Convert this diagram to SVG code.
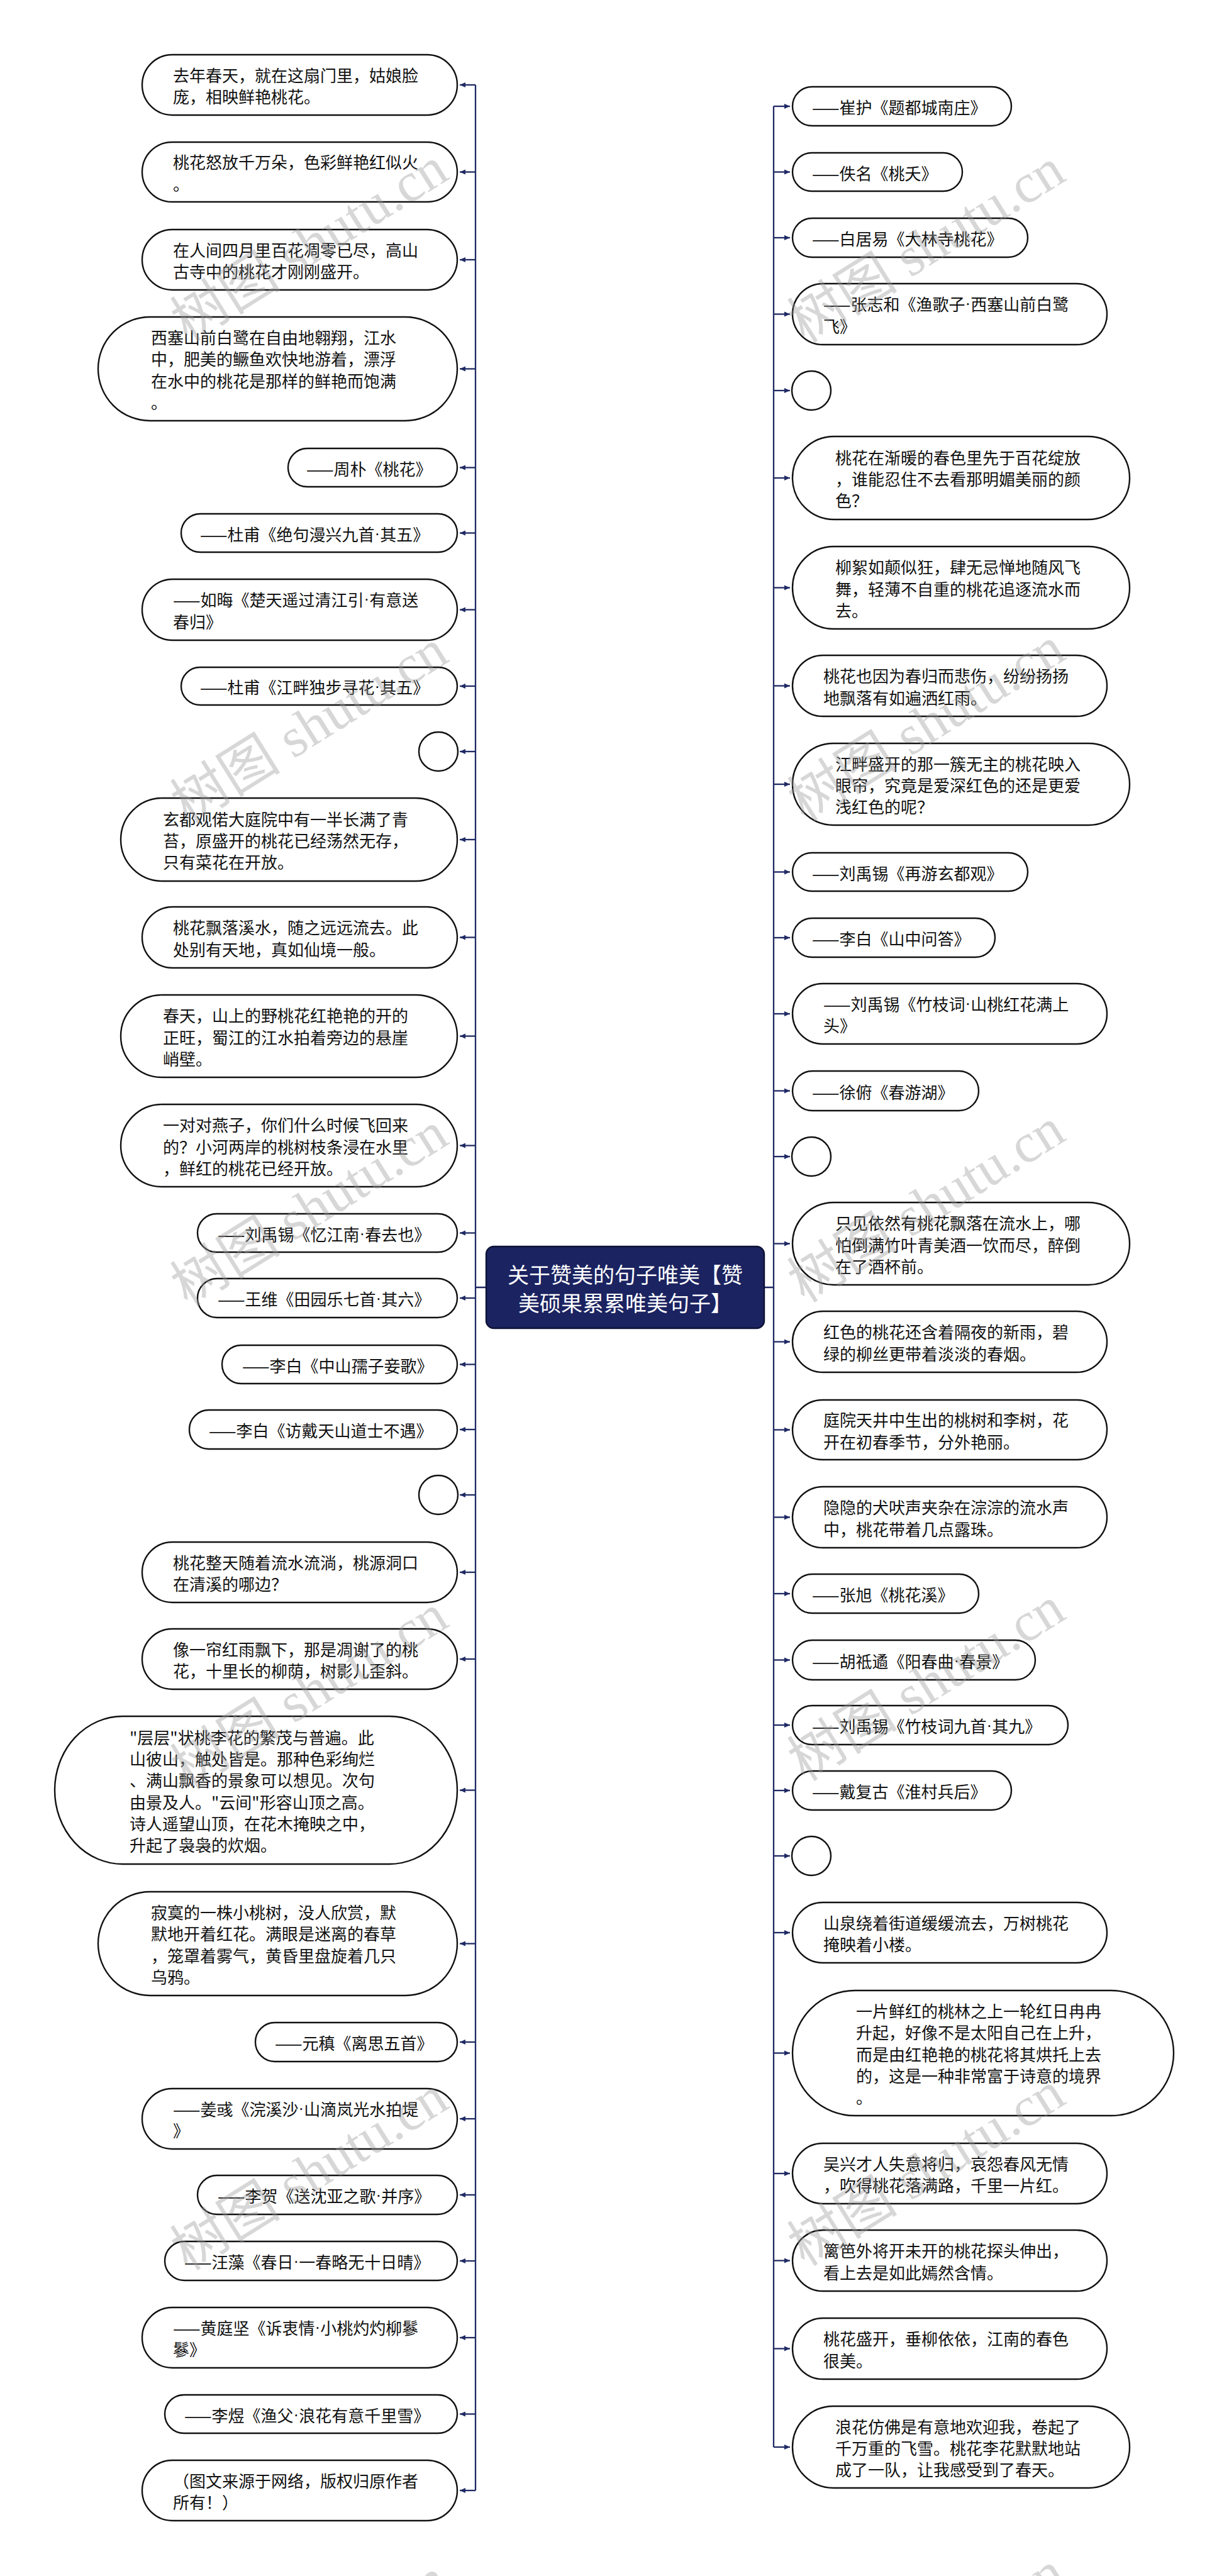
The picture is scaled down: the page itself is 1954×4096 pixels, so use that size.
<svg xmlns="http://www.w3.org/2000/svg" width="1954" height="4096" viewBox="0 0 1954 4096">
<defs>
<style>
.n{fill:#fff;stroke:#111;stroke-width:2.4}
.t{font-family:"Noto Sans CJK SC","Noto Sans",sans-serif;font-size:26px;fill:#111;dominant-baseline:central}
.d{font-family:"Liberation Sans",sans-serif;dominant-baseline:central}
.ct{font-family:"Noto Sans CJK SC","Noto Sans",sans-serif;font-size:34px;fill:#fff;dominant-baseline:central;text-anchor:middle}
.c{stroke:#1f2a64;stroke-width:2.3;fill:none}
.a{stroke:#1f2a64;stroke-width:2.3;fill:none;marker-end:url(#ah)}
.wm{font-family:"Liberation Serif","Noto Sans CJK SC",serif;font-size:88px;fill:#9a9a9a;fill-opacity:0.4;text-anchor:middle;dominant-baseline:central}
</style>
<marker id="ah" viewBox="0 0 10 10" refX="10" refY="5" markerWidth="9" markerHeight="9" markerUnits="userSpaceOnUse" orient="auto">
<path d="M0,0.5 L10,5 L0,9.5 z" fill="#1f2a64"/>
</marker>
</defs>
<rect width="1954" height="4096" fill="#fff"/>

<g id="connectors">
<path class="c" d="M756,135 V3960"/>
<path class="c" d="M1230,169 V3891"/>
<path class="c" d="M756,2047 H773 M1215,2047 H1230"/>
<path class="a" d="M756,135 H731"/>
<path class="a" d="M756,273.5 H731"/>
<path class="a" d="M756,413 H731"/>
<path class="a" d="M756,586.5 H731"/>
<path class="a" d="M756,743.5 H731"/>
<path class="a" d="M756,847.5 H731"/>
<path class="a" d="M756,969.5 H731"/>
<path class="a" d="M756,1091 H731"/>
<path class="a" d="M756,1195 H731"/>
<path class="a" d="M756,1335 H731"/>
<path class="a" d="M756,1490.5 H731"/>
<path class="a" d="M756,1647.5 H731"/>
<path class="a" d="M756,1821.5 H731"/>
<path class="a" d="M756,1960.5 H731"/>
<path class="a" d="M756,2064 H731"/>
<path class="a" d="M756,2169.5 H731"/>
<path class="a" d="M756,2273 H731"/>
<path class="a" d="M756,2377 H731"/>
<path class="a" d="M756,2500 H731"/>
<path class="a" d="M756,2638 H731"/>
<path class="a" d="M756,2846.5 H731"/>
<path class="a" d="M756,3090.5 H731"/>
<path class="a" d="M756,3247 H731"/>
<path class="a" d="M756,3369 H731"/>
<path class="a" d="M756,3490 H731"/>
<path class="a" d="M756,3595 H731"/>
<path class="a" d="M756,3717 H731"/>
<path class="a" d="M756,3838.5 H731"/>
<path class="a" d="M756,3960 H731"/>
<path class="a" d="M1230,169 H1256"/>
<path class="a" d="M1230,273.5 H1256"/>
<path class="a" d="M1230,378 H1256"/>
<path class="a" d="M1230,499.5 H1256"/>
<path class="a" d="M1230,621 H1256"/>
<path class="a" d="M1230,760 H1256"/>
<path class="a" d="M1230,934.5 H1256"/>
<path class="a" d="M1230,1090.5 H1256"/>
<path class="a" d="M1230,1247 H1256"/>
<path class="a" d="M1230,1386.5 H1256"/>
<path class="a" d="M1230,1491 H1256"/>
<path class="a" d="M1230,1612 H1256"/>
<path class="a" d="M1230,1734.5 H1256"/>
<path class="a" d="M1230,1839 H1256"/>
<path class="a" d="M1230,1977.5 H1256"/>
<path class="a" d="M1230,2133.5 H1256"/>
<path class="a" d="M1230,2273.5 H1256"/>
<path class="a" d="M1230,2412.5 H1256"/>
<path class="a" d="M1230,2534 H1256"/>
<path class="a" d="M1230,2639.5 H1256"/>
<path class="a" d="M1230,2743 H1256"/>
<path class="a" d="M1230,2847 H1256"/>
<path class="a" d="M1230,2951 H1256"/>
<path class="a" d="M1230,3073 H1256"/>
<path class="a" d="M1230,3264.5 H1256"/>
<path class="a" d="M1230,3456 H1256"/>
<path class="a" d="M1230,3594.5 H1256"/>
<path class="a" d="M1230,3734.5 H1256"/>
<path class="a" d="M1230,3891 H1256"/>
</g>

<g id="center">
<rect x="773" y="1982" width="442" height="130" rx="12" fill="#1b2361" stroke="#0d1235" stroke-width="2.4"/>
<text class="ct"><tspan x="994" y="2024.5">关于赞美的句子唯美【赞</tspan><tspan x="994" y="2069.5">美硕果累累唯美句子】</tspan></text>
</g>

<g id="L1"><rect class="n" x="226" y="87" width="501" height="96" rx="48"/><text class="t"><tspan x="275" y="117.9">去年春天，就在这扇门里，姑娘脸</tspan><tspan x="275" y="152.1">庞，相映鲜艳桃花。</tspan></text></g>
<g id="L2"><rect class="n" x="226" y="226" width="501" height="95" rx="47.5"/><text class="t"><tspan x="275" y="256.4">桃花怒放千万朵，色彩鲜艳红似火</tspan><tspan x="275" y="290.6">。</tspan></text></g>
<g id="L3"><rect class="n" x="226" y="365" width="501" height="96" rx="48"/><text class="t"><tspan x="275" y="395.9">在人间四月里百花凋零已尽，高山</tspan><tspan x="275" y="430.1">古寺中的桃花才刚刚盛开。</tspan></text></g>
<g id="L4"><rect class="n" x="156" y="504" width="571" height="165" rx="82.5"/><text class="t"><tspan x="240" y="535.1">西塞山前白鹭在自由地翱翔，江水</tspan><tspan x="240" y="569.4">中，肥美的鳜鱼欢快地游着，漂浮</tspan><tspan x="240" y="603.7">在水中的桃花是那样的鲜艳而饱满</tspan><tspan x="240" y="638">。</tspan></text></g>
<g id="L5"><rect class="n" x="458" y="713" width="269" height="61" rx="30.5"/><text class="t"><tspan x="487" y="743.5">——周朴《桃花》</tspan></text></g>
<g id="L6"><rect class="n" x="288" y="817" width="439" height="61" rx="30.5"/><text class="t"><tspan x="318" y="847.5">——杜甫《绝句漫兴九首<tspan class="d">·</tspan>其五》</tspan></text></g>
<g id="L7"><rect class="n" x="226" y="921" width="501" height="97" rx="48.5"/><text class="t"><tspan x="275" y="952.4">——如晦《楚天遥过清江引<tspan class="d">·</tspan>有意送</tspan><tspan x="275" y="986.6">春归》</tspan></text></g>
<g id="L8"><rect class="n" x="288" y="1061" width="439" height="60" rx="30"/><text class="t"><tspan x="318" y="1091">——杜甫《江畔独步寻花<tspan class="d">·</tspan>其五》</tspan></text></g>
<g id="L9"><circle class="n" cx="697" cy="1195" r="31"/></g>
<g id="L10"><rect class="n" x="192" y="1269" width="535" height="132" rx="66"/><text class="t"><tspan x="259" y="1300.7">玄都观偌大庭院中有一半长满了青</tspan><tspan x="259" y="1335">苔，原盛开的桃花已经荡然无存，</tspan><tspan x="259" y="1369.3">只有菜花在开放。</tspan></text></g>
<g id="L11"><rect class="n" x="226" y="1442" width="501" height="97" rx="48.5"/><text class="t"><tspan x="275" y="1473.4">桃花飘落溪水，随之远远流去。此</tspan><tspan x="275" y="1507.6">处别有天地，真如仙境一般。</tspan></text></g>
<g id="L12"><rect class="n" x="192" y="1582" width="535" height="131" rx="65.5"/><text class="t"><tspan x="259" y="1613.2">春天，山上的野桃花红艳艳的开的</tspan><tspan x="259" y="1647.5">正旺，蜀江的江水拍着旁边的悬崖</tspan><tspan x="259" y="1681.8">峭壁。</tspan></text></g>
<g id="L13"><rect class="n" x="192" y="1756" width="535" height="131" rx="65.5"/><text class="t"><tspan x="259" y="1787.2">一对对燕子，你们什么时候飞回来</tspan><tspan x="259" y="1821.5">的？小河两岸的桃树枝条浸在水里</tspan><tspan x="259" y="1855.8">，鲜红的桃花已经开放。</tspan></text></g>
<g id="L14"><rect class="n" x="314" y="1930" width="413" height="61" rx="30.5"/><text class="t"><tspan x="346" y="1960.5">——刘禹锡《忆江南<tspan class="d">·</tspan>春去也》</tspan></text></g>
<g id="L15"><rect class="n" x="314" y="2033" width="413" height="62" rx="31"/><text class="t"><tspan x="346" y="2064">——王维《田园乐七首<tspan class="d">·</tspan>其六》</tspan></text></g>
<g id="L16"><rect class="n" x="353" y="2139" width="374" height="61" rx="30.5"/><text class="t"><tspan x="385" y="2169.5">——李白《中山孺子妾歌》</tspan></text></g>
<g id="L17"><rect class="n" x="301" y="2242" width="426" height="62" rx="31"/><text class="t"><tspan x="332" y="2273">——李白《访戴天山道士不遇》</tspan></text></g>
<g id="L18"><circle class="n" cx="697" cy="2377" r="31"/></g>
<g id="L19"><rect class="n" x="226" y="2452" width="501" height="96" rx="48"/><text class="t"><tspan x="275" y="2482.9">桃花整天随着流水流淌，桃源洞口</tspan><tspan x="275" y="2517.1">在清溪的哪边？</tspan></text></g>
<g id="L20"><rect class="n" x="226" y="2590" width="501" height="96" rx="48"/><text class="t"><tspan x="275" y="2620.9">像一帘红雨飘下，那是凋谢了的桃</tspan><tspan x="275" y="2655.1">花，十里长的柳荫，树影儿歪斜。</tspan></text></g>
<g id="L21"><rect class="n" x="87" y="2729" width="640" height="235" rx="108" ry="117.5"/><text class="t"><tspan x="206" y="2760.8">"层层"状桃李花的繁茂与普遍。此</tspan><tspan x="206" y="2795.1">山彼山，触处皆是。那种色彩绚烂</tspan><tspan x="206" y="2829.4">、满山飘香的景象可以想见。次句</tspan><tspan x="206" y="2863.7">由景及人。"云间"形容山顶之高。</tspan><tspan x="206" y="2898">诗人遥望山顶，在花木掩映之中，</tspan><tspan x="206" y="2932.3">升起了袅袅的炊烟。</tspan></text></g>
<g id="L22"><rect class="n" x="156" y="3008" width="571" height="165" rx="82.5"/><text class="t"><tspan x="240" y="3039.1">寂寞的一株小桃树，没人欣赏，默</tspan><tspan x="240" y="3073.4">默地开着红花。满眼是迷离的春草</tspan><tspan x="240" y="3107.7">，笼罩着雾气，黄昏里盘旋着几只</tspan><tspan x="240" y="3142">乌鸦。</tspan></text></g>
<g id="L23"><rect class="n" x="406" y="3216" width="321" height="62" rx="31"/><text class="t"><tspan x="437" y="3247">——元稹《离思五首》</tspan></text></g>
<g id="L24"><rect class="n" x="226" y="3321" width="501" height="96" rx="48"/><text class="t"><tspan x="275" y="3351.9">——姜彧《浣溪沙<tspan class="d">·</tspan>山滴岚光水拍堤</tspan><tspan x="275" y="3386.1">》</tspan></text></g>
<g id="L25"><rect class="n" x="314" y="3459" width="413" height="62" rx="31"/><text class="t"><tspan x="346" y="3490">——李贺《送沈亚之歌<tspan class="d">·</tspan>并序》</tspan></text></g>
<g id="L26"><rect class="n" x="262" y="3564" width="465" height="62" rx="31"/><text class="t"><tspan x="293" y="3595">——汪藻《春日<tspan class="d">·</tspan>一春略无十日晴》</tspan></text></g>
<g id="L27"><rect class="n" x="226" y="3669" width="501" height="96" rx="48"/><text class="t"><tspan x="275" y="3699.9">——黄庭坚《诉衷情<tspan class="d">·</tspan>小桃灼灼柳鬖</tspan><tspan x="275" y="3734.1">鬖》</tspan></text></g>
<g id="L28"><rect class="n" x="262" y="3808" width="465" height="61" rx="30.5"/><text class="t"><tspan x="293" y="3838.5">——李煜《渔父<tspan class="d">·</tspan>浪花有意千里雪》</tspan></text></g>
<g id="L29"><rect class="n" x="226" y="3912" width="501" height="96" rx="48"/><text class="t"><tspan x="275" y="3942.9">（图文来源于网络，版权归原作者</tspan><tspan x="275" y="3977.1">所有！）</tspan></text></g>

<g id="R1"><rect class="n" x="1260" y="138" width="348" height="62" rx="31"/><text class="t"><tspan x="1291" y="169">——崔护《题都城南庄》</tspan></text></g>
<g id="R2"><rect class="n" x="1260" y="243" width="270" height="61" rx="30.5"/><text class="t"><tspan x="1291" y="273.5">——佚名《桃夭》</tspan></text></g>
<g id="R3"><rect class="n" x="1260" y="347" width="374" height="62" rx="31"/><text class="t"><tspan x="1291" y="378">——白居易《大林寺桃花》</tspan></text></g>
<g id="R4"><rect class="n" x="1260" y="451" width="500" height="97" rx="48.5"/><text class="t"><tspan x="1309" y="482.4">——张志和《渔歌子<tspan class="d">·</tspan>西塞山前白鹭</tspan><tspan x="1309" y="516.6">飞》</tspan></text></g>
<g id="R5"><circle class="n" cx="1290" cy="621" r="31"/></g>
<g id="R6"><rect class="n" x="1260" y="694" width="536" height="132" rx="66"/><text class="t"><tspan x="1328" y="725.7">桃花在渐暖的春色里先于百花绽放</tspan><tspan x="1328" y="760">，谁能忍住不去看那明媚美丽的颜</tspan><tspan x="1328" y="794.3">色？</tspan></text></g>
<g id="R7"><rect class="n" x="1260" y="869" width="536" height="131" rx="65.5"/><text class="t"><tspan x="1328" y="900.2">柳絮如颠似狂，肆无忌惮地随风飞</tspan><tspan x="1328" y="934.5">舞，轻薄不自重的桃花追逐流水而</tspan><tspan x="1328" y="968.8">去。</tspan></text></g>
<g id="R8"><rect class="n" x="1260" y="1042" width="500" height="97" rx="48.5"/><text class="t"><tspan x="1309" y="1073.4">桃花也因为春归而悲伤，纷纷扬扬</tspan><tspan x="1309" y="1107.6">地飘落有如遍洒红雨。</tspan></text></g>
<g id="R9"><rect class="n" x="1260" y="1182" width="536" height="130" rx="65"/><text class="t"><tspan x="1328" y="1212.7">江畔盛开的那一簇无主的桃花映入</tspan><tspan x="1328" y="1247">眼帘，究竟是爱深红色的还是更爱</tspan><tspan x="1328" y="1281.3">浅红色的呢？</tspan></text></g>
<g id="R10"><rect class="n" x="1260" y="1356" width="374" height="61" rx="30.5"/><text class="t"><tspan x="1291" y="1386.5">——刘禹锡《再游玄都观》</tspan></text></g>
<g id="R11"><rect class="n" x="1260" y="1460" width="322" height="62" rx="31"/><text class="t"><tspan x="1291" y="1491">——李白《山中问答》</tspan></text></g>
<g id="R12"><rect class="n" x="1260" y="1564" width="500" height="96" rx="48"/><text class="t"><tspan x="1309" y="1594.9">——刘禹锡《竹枝词<tspan class="d">·</tspan>山桃红花满上</tspan><tspan x="1309" y="1629.1">头》</tspan></text></g>
<g id="R13"><rect class="n" x="1260" y="1703" width="296" height="63" rx="31.5"/><text class="t"><tspan x="1291" y="1734.5">——徐俯《春游湖》</tspan></text></g>
<g id="R14"><circle class="n" cx="1290" cy="1839" r="31"/></g>
<g id="R15"><rect class="n" x="1260" y="1912" width="536" height="131" rx="65.5"/><text class="t"><tspan x="1328" y="1943.2">只见依然有桃花飘落在流水上，哪</tspan><tspan x="1328" y="1977.5">怕倒满竹叶青美酒一饮而尽，醉倒</tspan><tspan x="1328" y="2011.8">在了酒杯前。</tspan></text></g>
<g id="R16"><rect class="n" x="1260" y="2085" width="500" height="97" rx="48.5"/><text class="t"><tspan x="1309" y="2116.4">红色的桃花还含着隔夜的新雨，碧</tspan><tspan x="1309" y="2150.6">绿的柳丝更带着淡淡的春烟。</tspan></text></g>
<g id="R17"><rect class="n" x="1260" y="2226" width="500" height="95" rx="47.5"/><text class="t"><tspan x="1309" y="2256.4">庭院天井中生出的桃树和李树，花</tspan><tspan x="1309" y="2290.6">开在初春季节，分外艳丽。</tspan></text></g>
<g id="R18"><rect class="n" x="1260" y="2364" width="500" height="97" rx="48.5"/><text class="t"><tspan x="1309" y="2395.4">隐隐的犬吠声夹杂在淙淙的流水声</tspan><tspan x="1309" y="2429.6">中，桃花带着几点露珠。</tspan></text></g>
<g id="R19"><rect class="n" x="1260" y="2503" width="296" height="62" rx="31"/><text class="t"><tspan x="1291" y="2534">——张旭《桃花溪》</tspan></text></g>
<g id="R20"><rect class="n" x="1260" y="2608" width="386" height="63" rx="31.5"/><text class="t"><tspan x="1291" y="2639.5">——胡祗遹《阳春曲<tspan class="d">·</tspan>春景》</tspan></text></g>
<g id="R21"><rect class="n" x="1260" y="2712" width="438" height="62" rx="31"/><text class="t"><tspan x="1291" y="2743">——刘禹锡《竹枝词九首<tspan class="d">·</tspan>其九》</tspan></text></g>
<g id="R22"><rect class="n" x="1260" y="2816" width="348" height="62" rx="31"/><text class="t"><tspan x="1291" y="2847">——戴复古《淮村兵后》</tspan></text></g>
<g id="R23"><circle class="n" cx="1290" cy="2951" r="31"/></g>
<g id="R24"><rect class="n" x="1260" y="3025" width="500" height="96" rx="48"/><text class="t"><tspan x="1309" y="3055.9">山泉绕着街道缓缓流去，万树桃花</tspan><tspan x="1309" y="3090.1">掩映着小楼。</tspan></text></g>
<g id="R25"><rect class="n" x="1260" y="3165" width="606" height="199" rx="99.5"/><text class="t"><tspan x="1361" y="3195.9">一片鲜红的桃林之上一轮红日冉冉</tspan><tspan x="1361" y="3230.2">升起，好像不是太阳自己在上升，</tspan><tspan x="1361" y="3264.5">而是由红艳艳的桃花将其烘托上去</tspan><tspan x="1361" y="3298.8">的，这是一种非常富于诗意的境界</tspan><tspan x="1361" y="3333.1">。</tspan></text></g>
<g id="R26"><rect class="n" x="1260" y="3408" width="500" height="96" rx="48"/><text class="t"><tspan x="1309" y="3438.9">吴兴才人失意将归，哀怨春风无情</tspan><tspan x="1309" y="3473.1">，吹得桃花落满路，千里一片红。</tspan></text></g>
<g id="R27"><rect class="n" x="1260" y="3546" width="500" height="97" rx="48.5"/><text class="t"><tspan x="1309" y="3577.4">篱笆外将开未开的桃花探头伸出，</tspan><tspan x="1309" y="3611.6">看上去是如此嫣然含情。</tspan></text></g>
<g id="R28"><rect class="n" x="1260" y="3686" width="500" height="97" rx="48.5"/><text class="t"><tspan x="1309" y="3717.4">桃花盛开，垂柳依依，江南的春色</tspan><tspan x="1309" y="3751.6">很美。</tspan></text></g>
<g id="R29"><rect class="n" x="1260" y="3826" width="536" height="130" rx="65"/><text class="t"><tspan x="1328" y="3856.7">浪花仿佛是有意地欢迎我，卷起了</tspan><tspan x="1328" y="3891">千万重的飞雪。桃花李花默默地站</tspan><tspan x="1328" y="3925.3">成了一队，让我感受到了春天。</tspan></text></g>

<g id="watermarks">
<text class="wm" transform="translate(492,389) rotate(-32)">树图 shutu.cn</text>
<text class="wm" transform="translate(492,1156) rotate(-32)">树图 shutu.cn</text>
<text class="wm" transform="translate(492,1923) rotate(-32)">树图 shutu.cn</text>
<text class="wm" transform="translate(492,2690) rotate(-32)">树图 shutu.cn</text>
<text class="wm" transform="translate(492,3456) rotate(-32)">树图 shutu.cn</text>
<text class="wm" transform="translate(492,4223) rotate(-32)">树图 shutu.cn</text>
<text class="wm" transform="translate(1473,391) rotate(-32)">树图 shutu.cn</text>
<text class="wm" transform="translate(1473,1152) rotate(-32)">树图 shutu.cn</text>
<text class="wm" transform="translate(1473,1917) rotate(-32)">树图 shutu.cn</text>
<text class="wm" transform="translate(1473,2678) rotate(-32)">树图 shutu.cn</text>
<text class="wm" transform="translate(1473,3449) rotate(-32)">树图 shutu.cn</text>
<text class="wm" transform="translate(1473,4212) rotate(-32)">树图 shutu.cn</text>
</g>
</svg>
